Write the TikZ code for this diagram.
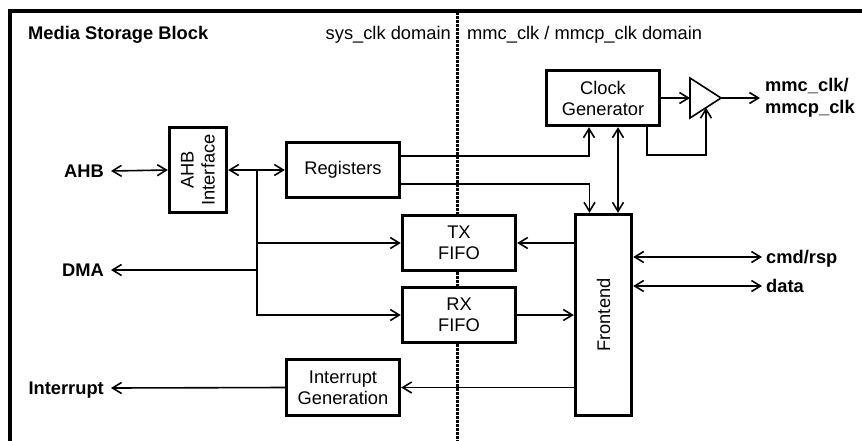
\documentclass[tikz,border=0pt]{standalone}
\usepackage{fontspec}
\setmainfont{Liberation Sans}
\usetikzlibrary{arrows.meta}
\begin{document}
\begin{tikzpicture}[x=1pt,y=-1pt,
  font=\fontsize{18.3}{21}\selectfont,
  box/.style={draw, fill=white, line width=3.4pt, align=center, inner sep=0pt},
  conn/.style={line width=1.6pt},
  arr/.style={conn, -{Straight Barb[length=9pt,width=11pt]}},
  darr/.style={conn, {Straight Barb[length=9pt,width=11pt]}-{Straight Barb[length=9pt,width=11pt]}},
  lab/.style={font=\fontsize{18.3}{21}\selectfont\bfseries, inner xsep=7pt, inner ysep=0pt, text height=13pt, text depth=0pt},
  mlab/.style={font=\fontsize{18.3}{22}\selectfont\bfseries, inner xsep=5pt, inner ysep=0pt, align=left},
  plain/.style={inner sep=0pt}]
\useasboundingbox (0,0) rectangle (862,440);
% frame (only left and top edges visible)
\draw[line width=3.4pt, line join=miter] (10,450) -- (10,11) -- (870,11);
% clock domain divider
\draw[line width=3pt, dash pattern=on 2.7pt off 1.3pt] (457,12) -- (457,445);
% headings
\node[plain, anchor=base west, font=\fontsize{18.3}{21}\selectfont\bfseries] (title) at (28,39) {Media Storage Block};
\node[plain, anchor=base east] (sysdom) at (451,39) {sys\_clk domain};
\node[plain, anchor=base west] (mmcdom) at (467,39) {mmc\_clk / mmcp\_clk domain};
% blocks
\node[box, minimum width=57pt, minimum height=85pt,
      label={[rotate=90, align=center]center:AHB\\Interface}] (ahbif) at (198,170) {};
\node[box, minimum width=113pt, minimum height=55pt] (regs) at (343,170) {Registers};
\node[box, minimum width=113pt, minimum height=55pt] (clk) at (603,98) {Clock\\Generator};
\node[box, minimum width=113pt, minimum height=55pt] (tx) at (459,243) {TX\\FIFO};
\node[box, minimum width=113pt, minimum height=55pt] (rx) at (459,315) {RX\\FIFO};
\node[box, minimum width=113pt, minimum height=56pt] (irq) at (343,387.5) {Interrupt\\Generation};
\node[box, minimum width=56pt, minimum height=201pt,
      label={[rotate=90]center:Frontend}] (fe) at (603.5,315) {};
% buffer
\draw[conn, line join=miter] (690,78) -- (721,98) -- (690,118) -- cycle;
\coordinate (bufin) at (690,98);
\coordinate (bufout) at (721,98);
\coordinate (buffb) at (706,107.7);
% external labels
\node[lab, anchor=east] (ahb) at (111,171) {AHB};
\node[lab, anchor=east] (dma) at (111,270) {DMA};
\node[lab, anchor=east] (intl) at (111,388) {Interrupt};
\node[mlab, anchor=west] (mmcl) at (760,98) {mmc\_clk/\\mmcp\_clk};
\node[lab, anchor=west, inner xsep=4pt] (cmd) at (762,257) {cmd/rsp};
\node[lab, anchor=west, inner xsep=4pt] (data) at (762,286) {data};
% connectors
\draw[darr] (ahb.east) -- (ahbif.west);
\draw[darr] (ahbif.east) -- (regs.west);
\coordinate (j) at (257,170);
\draw[arr] (j) |- (rx.west);
\draw[arr] (j |- tx) -- (tx.west);
\draw[arr] (j |- dma) -- (dma.east);
\draw[arr] ([yshift=14pt]regs.east) -| ([xshift=-14pt]clk.south);
\draw[arr] ([yshift=-14pt]regs.east) -| ([xshift=-14pt]fe.north);
\draw[darr] ([xshift=15pt]clk.south) -- ([xshift=14.5pt]fe.north);
\draw[arr] (clk.east) -- (bufin);
\draw[arr] (bufout) -- (mmcl.west);
\draw[arr] ([xshift=44pt]clk.south) -- ++(0,28) -| (buffb);
\draw[arr] (fe.west |- tx) -- (tx.east);
\draw[arr] (rx.east) -- (rx.east -| fe.west);
\draw[arr] (fe.west |- irq) -- (irq.east);
\draw[arr] (irq.west) -- (intl.east);
\draw[darr] (fe.east |- cmd) -- (cmd.west);
\draw[darr] (fe.east |- data) -- (data.west);
\end{tikzpicture}
\end{document}
